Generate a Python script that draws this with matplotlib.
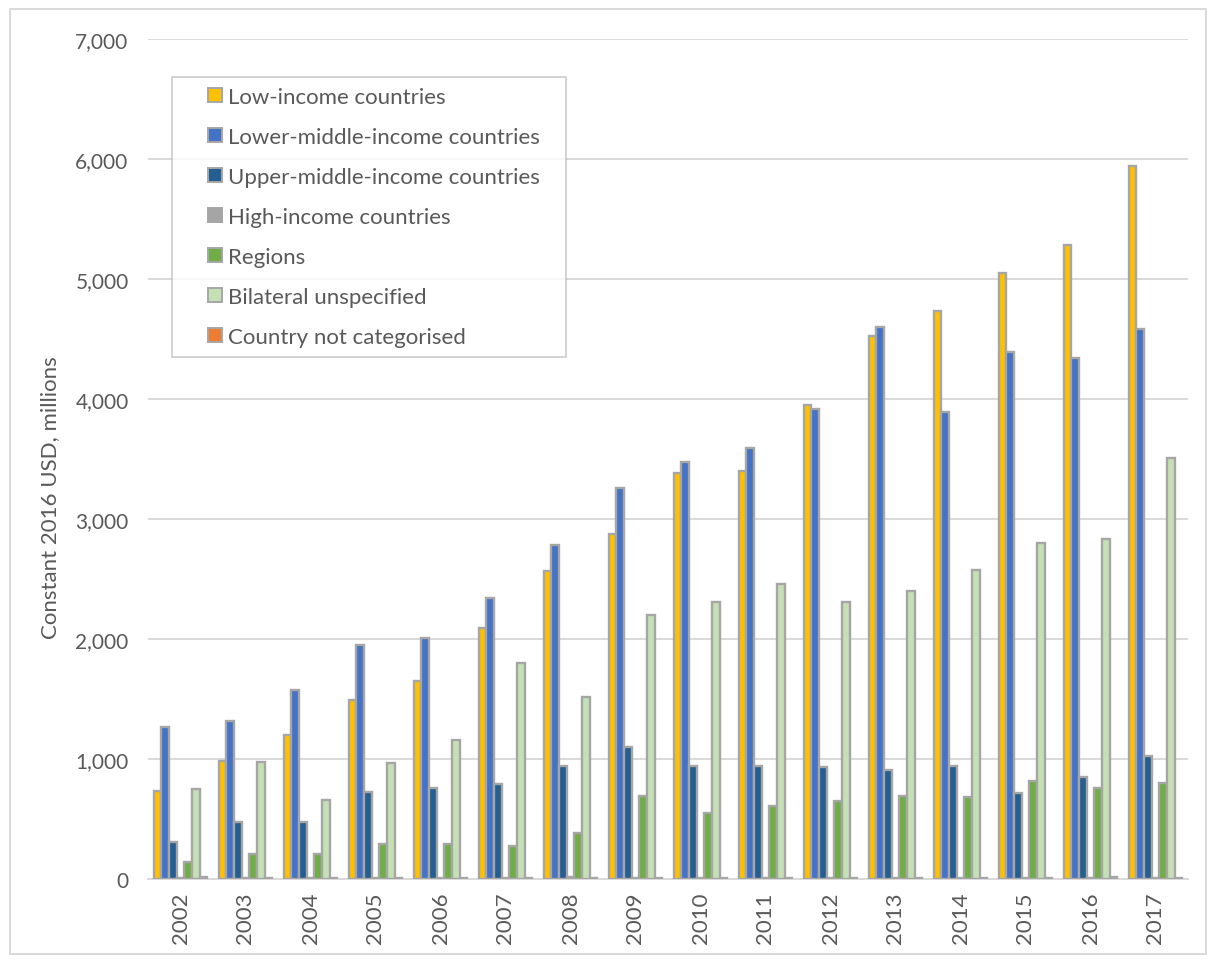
import matplotlib
matplotlib.use("Agg")
import matplotlib.pyplot as plt
import numpy as np
from matplotlib.patches import Patch, Rectangle
from matplotlib.legend_handler import HandlerPatch
from matplotlib.ticker import FuncFormatter, MultipleLocator

years = [str(y) for y in range(2002, 2018)]

series_names = [
    "Low-income countries",
    "Lower-middle-income countries",
    "Upper-middle-income countries",
    "High-income countries",
    "Regions",
    "Bilateral unspecified",
    "Country not categorised",
]

low_income = [736, 986, 1203, 1492, 1653, 2092, 2564, 2875, 3381, 3403, 3950, 4525, 4736, 5050, 5283, 5939]
lower_middle = [1264, 1319, 1578, 1953, 2006, 2339, 2786, 3258, 3472, 3589, 3917, 4597, 3889, 4394, 4339, 4583]
upper_middle = [311, 472, 472, 728, 761, 792, 944, 1103, 944, 944, 931, 911, 939, 717, 853, 1028]
high_income = [5, 5, 5, 5, 5, 5, 15, 8, 5, 5, 5, 5, 5, 5, 5, 5]
regions = [142, 208, 208, 292, 292, 278, 383, 689, 550, 611, 647, 694, 686, 814, 756, 797]
bilateral = [750, 978, 658, 967, 1158, 1800, 1514, 2200, 2306, 2458, 2306, 2403, 2575, 2800, 2833, 3508]
not_categorised = [15, 10, 8, 8, 10, 10, 10, 12, 10, 10, 12, 10, 10, 10, 20, 12]

series_values = [low_income, lower_middle, upper_middle, high_income,
                 regions, bilateral, not_categorised]
colors = ["#FFC000", "#4472C4", "#255E91", "#A5A5A5", "#70AD47", "#C5E0B4", "#ED7D31"]
edge = "#A6A6A6"
text_color = "#595959"
font = ["Lato", "DejaVu Sans"]

plt.rcParams["font.family"] = font

W, H = 1216, 962
fig = plt.figure(figsize=(W / 100, H / 100), dpi=100)
ax = fig.add_axes([148 / W, 1 - 880 / H, (1188 - 148) / W, (880 - 40) / H])

x = np.arange(len(years))
group_width = 0.83
bw = group_width / len(series_values)
for i, (vals, col) in enumerate(zip(series_values, colors)):
    offs = -group_width / 2 + bw * (i + 0.5)
    ax.bar(x + offs, vals, width=bw, color=col, edgecolor=edge, linewidth=1.7, zorder=3)

ax.set_xlim(-0.5, len(years) - 0.5)
ax.set_ylim(0, 7000)
ax.yaxis.set_major_locator(MultipleLocator(1000))
ax.yaxis.set_major_formatter(FuncFormatter(lambda v, p: f"{int(v):,}"))
ax.grid(axis="y", color="#D9D9D9", linewidth=1.4, zorder=0)
ax.set_axisbelow(True)
for s in ["left", "right", "top"]:
    ax.spines[s].set_visible(False)
ax.spines["bottom"].set_color("#D9D9D9")
ax.spines["bottom"].set_linewidth(1.4)
ax.set_xticks(x)
ax.set_xticklabels(years, rotation=90)
ax.tick_params(axis="both", length=0, labelcolor=text_color)
ax.tick_params(axis="y", pad=14, labelsize=15)
ax.tick_params(axis="x", pad=9, labelsize=16)
ax.set_ylabel("Constant 2016 USD, millions", fontsize=16, color=text_color)
ax.yaxis.set_label_coords(-0.0846, 0.455)


def square_marker(legend, orig_handle, xdescent, ydescent, width, height, fontsize):
    side = 14 * 72 / fig.dpi
    return Rectangle((width - side - xdescent, (height - side) / 2 - ydescent), side, side)


handles = [Patch(facecolor=c, edgecolor=edge, linewidth=1.4) for c in colors]
leg = ax.legend(handles, series_names, loc="upper left",
                bbox_to_anchor=(172 / W, 1 - 358 / H, 394 / W, 280 / H),
                bbox_transform=fig.transFigure, mode="expand",
                fontsize=16, frameon=True, fancybox=False, handlelength=1.8,
                handleheight=0.7, handletextpad=0.27, labelspacing=0.9,
                borderpad=0.45, borderaxespad=0,
                handler_map={Patch: HandlerPatch(patch_func=square_marker)})
leg.get_frame().set_edgecolor("#BFBFBF")
leg.get_frame().set_linewidth(1.2)
for t in leg.get_texts():
    t.set_color(text_color)

fig.patches.append(Rectangle((10 / W, 1 - 955 / H), 1196 / W, 945 / H,
                             transform=fig.transFigure, fill=False,
                             edgecolor="#D9D9D9", linewidth=1.4))

fig.savefig("out.png", dpi=100)
